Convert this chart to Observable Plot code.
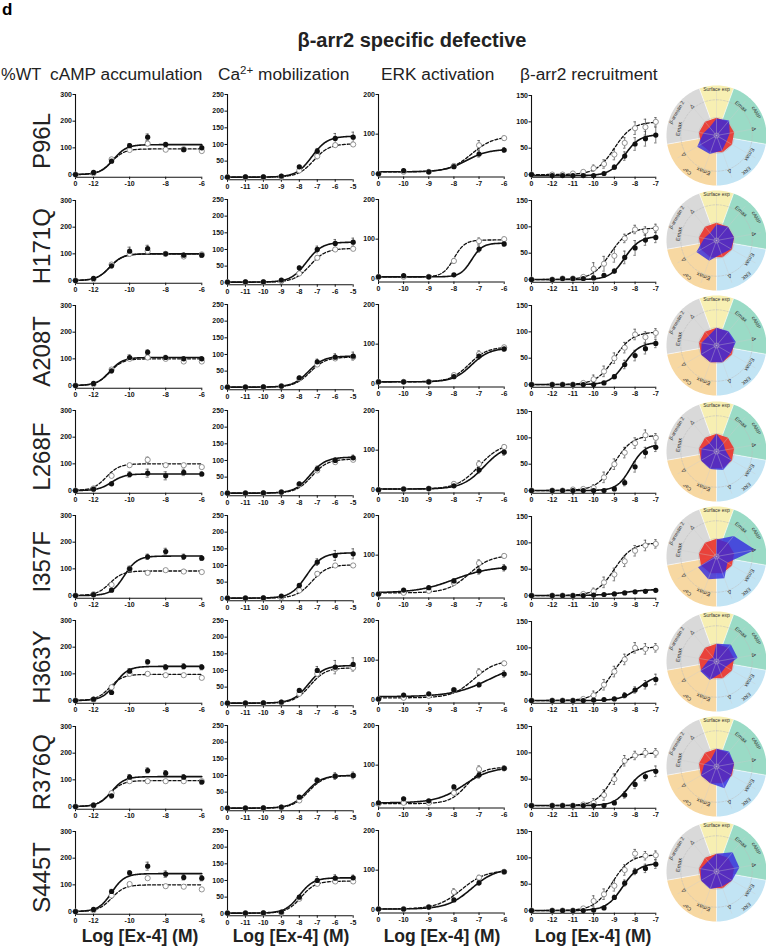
<!DOCTYPE html>
<html><head><meta charset="utf-8">
<script src="https://cdn.jsdelivr.net/npm/d3@7"></script>
<script src="https://cdn.jsdelivr.net/npm/@observablehq/plot@0.6"></script>
<style>
body{margin:0;background:#fff;font-family:"Liberation Sans",Arial,sans-serif;}
#root{position:relative;width:766px;height:947px;overflow:hidden;background:#fff;}
#root svg.pp{position:absolute;overflow:visible;background:transparent;}
</style></head><body><div id="root"></div>
<script>
// ---------------- DATA ----------------
const mutants = ["P96L","H171Q","A208T","L268F","I357F","H363Y","R376Q","S445T"];
const columnTitles = ["cAMP accumulation","Ca²⁺ mobilization","ERK activation","β-arr2 recruitment"];

// doses (log M); the first value is the vehicle ("0") position on the axis
const dosesCAMP = [-13,-12,-11,-10,-9,-8,-7,-6];
const ticksCAMP = [-13,-12,-10,-8,-6];
const dosesCA = [-12,-11,-10,-9,-8,-7,-6,-5];
const ticksCA = [-12,-11,-10,-9,-8,-7,-6,-5];
const dosesERK = [-11,-10,-9,-8,-7,-6];
const ticksERK = [-11,-10,-9,-8,-7,-6];
const dosesARR = [-13,-12,-11.5,-11,-10.5,-10,-9.5,-9,-8.5,-8,-7.5,-7];
const ticksARR = [-13,-12,-11,-10,-9,-8,-7];

// %WT responses, mutant (filled) and WT (open)
const mutCAMP = [
 [0,8,50,108,140,113,93,100],[0,8,55,110,120,100,95,95],[0,8,55,105,125,105,100,100],[0,5,25,60,65,55,68,62],
 [0,3,20,100,145,165,145,140],[0,5,30,110,145,125,128,125],[0,5,40,110,135,125,110,92],[0,8,75,145,170,140,128,125]];
const wtCAMP = [
 [0,5,57,92,116,93,95,88],[0,5,60,100,110,100,90,98],[0,5,60,100,105,100,90,90],[0,8,55,95,115,95,95,88],
 [0,5,40,100,85,95,90,88],[0,3,50,100,100,95,95,85],[0,5,50,95,95,95,95,95],[0,5,60,103,125,95,93,83]];
const errMutCAMP = [
 [0,3,5,8,12,6,5,8],[0,3,8,15,12,8,8,8],[0,3,8,10,8,8,8,8],[0,3,6,10,15,15,12,8],
 [0,3,6,10,10,12,10,8],[0,3,6,10,8,10,10,10],[0,3,8,10,10,10,10,8],[0,3,8,8,15,12,10,10]];
const errWtCAMP = [
 [0,2,5,6,8,5,5,5],[0,2,5,8,8,5,5,5],[0,2,5,6,6,5,5,5],[0,2,5,6,10,6,6,6],
 [0,2,5,6,6,6,6,6],[0,2,5,6,6,6,6,6],[0,2,5,6,6,6,6,6],[0,2,5,6,6,6,6,6]];

const mutCA = [
 [2,3,3,5,33,80,118,122],[2,3,3,8,45,100,118,122],[2,2,3,5,30,78,92,95],[2,2,3,5,30,75,100,108],
 [2,2,3,8,40,110,130,135],[2,2,3,5,40,100,110,118],[2,2,3,5,35,85,98,100],[2,2,3,5,50,100,107,108]];
const wtCA = [
 [2,2,2,3,22,65,98,100],[2,2,2,5,28,75,100,102],[2,2,2,5,28,70,88,92],[2,2,2,5,28,70,95,102],
 [2,2,2,4,25,75,100,100],[2,2,2,4,30,90,105,108],[2,2,2,4,25,85,98,100],[2,2,2,3,45,90,97,97]];
const errMutCA = [
 [0,1,1,2,4,8,15,15],[0,1,1,2,5,10,12,12],[0,1,1,2,4,8,10,12],[0,1,1,2,4,8,8,8],
 [0,1,1,2,5,10,15,15],[0,1,1,2,5,12,20,20],[0,1,1,2,5,8,10,10],[0,1,1,2,5,12,10,8]];
const errWtCA = [
 [0,1,1,2,3,8,5,5],[0,1,1,2,3,6,5,5],[0,1,1,2,3,6,5,5],[0,1,1,2,3,6,5,5],
 [0,1,1,2,3,6,5,5],[0,1,1,2,3,6,5,5],[0,1,1,2,3,6,5,5],[0,1,1,2,3,6,5,5]];

const mutERK = [
 [0,8,5,18,50,60],[5,8,5,10,75,88],[5,5,5,18,70,88],[0,2,3,10,50,95],
 [2,12,18,35,60,68],[2,12,15,25,38,65],[5,15,10,45,75,92],[2,2,7,25,68,96]];
const wtERK = [
 [0,5,5,20,72,90],[5,5,5,45,95,100],[5,5,5,22,75,92],[0,2,3,15,65,108],
 [2,5,10,30,80,98],[2,5,10,25,70,92],[3,5,5,30,90,92],[2,2,7,45,81,96]];
const errMutERK = [
 [0,4,2,3,8,6],[0,3,2,3,8,6],[0,3,2,3,8,6],[0,2,2,3,8,8],
 [0,4,3,5,8,8],[0,4,3,5,6,8],[0,4,3,5,8,6],[0,2,2,4,6,5]];
const errWtERK = [
 [0,2,2,4,12,5],[0,2,2,6,8,5],[0,2,2,4,8,5],[0,2,2,4,8,5],
 [0,2,2,4,8,5],[0,2,2,4,8,5],[0,2,2,4,8,5],[0,2,2,8,6,5]];

const mutARR = [
 [0,-2,-2,-2,-2,-2,2,14,35,58,68,75],[0,0,2,2,2,3,8,16,42,60,75,80],[0,0,0,0,0,0,3,15,38,55,68,78],[0,0,0,0,0,0,0,3,15,45,72,82],
 [0,0,0,0,0,1,2,3,5,7,8,10],[0,0,0,0,0,1,2,3,10,20,30,40],[0,0,0,0,0,0,0,5,20,40,55,65],[0,0,0,0,0,1,5,25,52,74,80,88]];
const wtARR = [
 [0,0,0,2,5,12,20,38,60,88,90,100],[0,0,2,2,5,20,30,45,78,95,92,97],[0,0,0,0,3,10,25,50,70,95,90,98],[0,0,0,2,3,5,25,50,72,90,105,100],
 [0,0,0,0,3,8,25,40,65,85,95,98],[0,0,0,0,3,10,30,55,78,100,98,100],[0,0,0,0,2,5,20,50,85,95,100,100],[0,0,0,0,4,18,31,47,77,108,104,105]];
const errMutARR = [
 [0,0,0,0,0,0,2,4,8,12,14,15],[0,0,0,0,0,0,3,4,12,14,10,10],[0,0,0,0,0,0,2,4,8,10,10,8],[0,0,0,0,0,0,2,3,6,10,10,8],
 [0,0,0,0,0,0,1,1,2,2,2,3],[0,0,0,0,0,0,2,3,5,6,8,10],[0,0,0,0,0,0,2,3,6,8,8,10],[0,0,0,0,0,0,2,4,6,6,8,8]];
const errWtARR = [
 [0,0,0,0,3,6,8,10,10,12,15,8],[0,0,0,0,3,12,14,12,8,8,8,8],[0,0,0,0,3,8,10,10,10,10,10,8],[0,0,0,0,3,6,10,10,10,10,10,8],
 [0,0,0,0,3,6,10,12,10,10,10,8],[0,0,0,0,3,8,10,10,10,10,10,8],[0,0,0,0,3,8,10,10,10,8,8,8],[0,0,0,0,3,10,10,10,10,8,8,8]];

// fitted curve parameters [bottom, top, logEC50, hill]
const fitMutCAMP = [[0,112,-10.9,1.2],[0,100,-11.1,1.2],[0,105,-11.1,1.2],[0,62,-11.0,1.2],[0,148,-10.3,1.2],[0,128,-10.8,1.2],[0,112,-11.0,1.2],[0,142,-11.0,1.2]];
const fitWtCAMP = [[0,96,-11.0,1.2],[0,100,-11.1,1.2],[0,100,-11.1,1.2],[0,100,-11.3,1.2],[0,92,-11.1,1.2],[0,98,-11.1,1.2],[0,97,-11.1,1.2],[0,100,-11.0,1.2]];
const fitMutCA = [[2,125,-7.3,1],[2,122,-7.6,1],[2,95,-7.5,1],[2,110,-7.4,1],[2,138,-7.6,1],[2,115,-7.5,1],[2,100,-7.6,1],[2,108,-8.0,1.1]];
const fitWtCA = [[2,102,-7.2,1],[2,103,-7.4,1],[2,92,-7.4,1],[2,104,-7.3,1],[2,102,-7.3,1],[2,108,-7.4,1],[2,100,-7.5,1],[2,98,-7.9,1.1]];
const fitMutERK = [[5,62,-7.5,1],[5,90,-7.3,2],[5,90,-7.3,1.2],[2,115,-6.8,1],[5,72,-8.0,0.6],[8,95,-6.6,0.6],[5,95,-7.6,0.8],[2,105,-7.3,0.9]];
const fitWtERK = [[5,95,-7.3,1],[5,98,-8.0,2],[5,93,-7.4,1.2],[2,118,-7.0,1],[5,100,-7.4,1],[5,100,-7.2,1],[3,95,-7.5,1.3],[2,100,-7.7,0.9]];
const fitMutARR = [[-2,76,-8.5,1.2],[0,82,-8.5,1.2],[0,80,-8.5,1.2],[0,88,-8.2,1.3],[0,12,-8.5,0.7],[0,50,-7.8,1],[0,70,-8.3,1.2],[0,90,-8.6,1.1]];
const fitWtARR = [[0,100,-9.0,1],[0,98,-9.2,1],[0,100,-9.0,1],[0,105,-9.0,1],[0,100,-9.0,1],[0,102,-9.1,1],[0,100,-9.1,1.1],[0,106,-9.1,1]];

// radar: axes and mutant values (%WT); WT = 100 on all axes
const radarAxisLabels = ["Surface exp","Emax","Δ","Emax","Δ","Emax","Δ","Emax","Δ"];
const radarGroups = ["Surface exp","cAMP","ERK","Ca²⁺","β-arrestin 2"];
const radarGroupColors = ["#f7efb2","#9adbc6","#c2e4f4","#f7d8a2","#d9d9d9"];
const radarWT = [100,100,100,100,100,100,100,100,100];
const radarMut = [
 [95,110,75,65,90,110,125,75,60],
 [90,100,100,95,80,120,130,70,55],
 [100,105,110,90,100,100,100,85,70],
 [100,60,50,95,110,105,100,85,60],
 [95,150,220,70,130,135,120,10,5],
 [100,125,120,60,70,110,105,45,30],
 [100,110,100,95,130,100,100,70,50],
 [100,140,130,100,90,105,100,90,75]];

// ---------------- LAYOUT ----------------
const ROW_DY = 105.2;
const root = document.getElementById("root");
const sig = (x, p) => p[0] + (p[1] - p[0]) / (1 + Math.pow(10, (p[2] - x) * p[3]));

const cfgs = [
 {doses:dosesCAMP, ticks:ticksCAMP, yTicks:[0,100,200,300], yLow:-10, yMax:300, px0:74.7, px1:201, pyTop:94.3, pyAxis:177,
  mut:mutCAMP, wt:wtCAMP, em:errMutCAMP, ew:errWtCAMP, fm:fitMutCAMP, fw:fitWtCAMP, cap:0.18},
 {doses:dosesCA, ticks:ticksCA, yTicks:[0,50,100,150,200,250], yLow:-6, yMax:250, px0:227, px1:352.7, pyTop:94, pyAxis:179.3,
  mut:mutCA, wt:wtCA, em:errMutCA, ew:errWtCA, fm:fitMutCA, fw:fitWtCA, cap:0.14},
 {doses:dosesERK, ticks:ticksERK, yTicks:[0,100,200], yLow:-8, yMax:200, px0:378.3, px1:504, pyTop:94, pyAxis:176.5,
  mut:mutERK, wt:wtERK, em:errMutERK, ew:errWtERK, fm:fitMutERK, fw:fitWtERK, cap:0.1},
 {doses:dosesARR, ticks:ticksARR, yTicks:[0,50,100,150], yLow:-5, yMax:150, px0:530.7, px1:655, pyTop:95, pyAxis:176.7,
  mut:mutARR, wt:wtARR, em:errMutARR, ew:errWtARR, fm:fitMutARR, fw:fitWtARR, cap:0.12}
];

function place(svg, left, top) {
  svg.classList.add("pp");
  svg.style.left = left + "px";
  svg.style.top = top + "px";
  root.appendChild(svg);
}

function panel(c, k) {
  const mL = 26, mR = 8, mT = 6, mB = 18;
  const W = (c.px1 - c.px0) + mL + mR;
  const H = (c.pyAxis - c.pyTop) + mT + mB;
  const veh = c.doses[0], last = c.doses[c.doses.length - 1];
  const ptsM = c.doses.map((d, i) => ({x: d, y: c.mut[k][i], e: c.em[k][i]}));
  const ptsW = c.doses.map((d, i) => ({x: d, y: c.wt[k][i], e: c.ew[k][i]}));
  const xs = d3.range(veh, last + 1e-6, 0.04);
  const curM = xs.map(x => ({x, y: sig(x, c.fm[k])}));
  const curW = xs.map(x => ({x, y: sig(x, c.fw[k])}));
  const errs = ptsW.concat(ptsM).filter(d => d.e > 0);
  const svg = Plot.plot({
    width: W, height: H, marginLeft: mL, marginRight: mR, marginTop: mT, marginBottom: mB,
    style: {fontSize: "7px", fontWeight: "bold", fontFamily: "Liberation Sans, Arial, sans-serif", color: "#111", background: "transparent"},
    x: {domain: [veh, last], ticks: c.ticks, tickFormat: d => d === veh ? "0" : String(d), tickSize: 2.5, tickPadding: 1.5, label: null},
    y: {domain: [c.yLow, c.yMax], ticks: c.yTicks, tickFormat: d => String(d), tickSize: 2.5, tickPadding: 1, label: null},
    marks: [
      Plot.ruleY([c.yLow], {x1: veh, x2: last, stroke: "#111", strokeWidth: 1.1}),
      Plot.ruleX([veh], {y1: c.yLow, y2: c.yMax, stroke: "#111", strokeWidth: 1.1}),
      Plot.ruleX(errs, {x: "x", y1: d => d.y - d.e, y2: d => d.y + d.e, stroke: "#444", strokeWidth: 0.7}),
      Plot.ruleY(errs, {y: d => d.y + d.e, x1: d => d.x - c.cap/2, x2: d => d.x + c.cap/2, stroke: "#444", strokeWidth: 0.7}),
      Plot.ruleY(errs, {y: d => d.y - d.e, x1: d => d.x - c.cap/2, x2: d => d.x + c.cap/2, stroke: "#444", strokeWidth: 0.7}),
      Plot.line(curW, {x: "x", y: "y", stroke: "#111", strokeWidth: 1.3, strokeDasharray: "3,2"}),
      Plot.line(curM, {x: "x", y: "y", stroke: "#111", strokeWidth: 1.6}),
      Plot.dot(ptsW, {x: "x", y: "y", r: 2.6, fill: "white", stroke: "#888", strokeWidth: 0.9}),
      Plot.dot(ptsM, {x: "x", y: "y", r: 2.6, fill: "#111"})
    ]
  });
  place(svg, c.px0 - mL, c.pyTop - mT + k * ROW_DY);
}

function radar(k) {
  const cx = 716, cy = 135 + k * ROW_DY, R = 50, S = 1.12;
  const size = 2 * S * R;
  const maxV = 280;
  const n = radarAxisLabels.length;
  const ang = i => i * 360 / n;
  const pol = (a, r) => ({x: r * Math.sin(a * Math.PI / 180), y: r * Math.cos(a * Math.PI / 180)});
  const spans = [[-0.5,0.5],[0.5,2.5],[2.5,4.5],[4.5,6.5],[6.5,8.5]];
  const marks = [];
  spans.forEach((s, g) => {
    const a0 = s[0] * 360 / n, a1 = s[1] * 360 / n;
    const pts = [{x: 0, y: 0}].concat(d3.range(a0, a1 + 0.01, 2).map(a => pol(a, 1)));
    marks.push(Plot.line(pts, {x: "x", y: "y", fill: radarGroupColors[g], stroke: "none", curve: "linear-closed"}));
  });
  marks.push(Plot.link(spans.map(s => pol(s[0] * 360 / n, 1)), {x1: 0, y1: 0, x2: "x", y2: "y", stroke: "white", strokeWidth: 0.6}));
  [100, 200].forEach(v => {
    marks.push(Plot.line(d3.range(0, 361, 4).map(a => pol(a, v / maxV)), {x: "x", y: "y", stroke: "#bbb", strokeWidth: 0.5, strokeDasharray: v === 200 ? "2,1.5" : null}));
  });
  const wtPts = radarWT.map((v, i) => pol(ang(i), v / maxV));
  const mPts = radarMut[k].map((v, i) => pol(ang(i), v / maxV));
  marks.push(Plot.line(wtPts, {x: "x", y: "y", fill: "#ea3a33", fillOpacity: 0.95, stroke: "none", curve: "linear-closed"}));
  marks.push(Plot.line(mPts, {x: "x", y: "y", fill: "#3228e0", fillOpacity: 0.8, stroke: "none", curve: "linear-closed"}));
  marks.push(Plot.link(radarAxisLabels.map((l, i) => pol(ang(i), 0.9)), {x1: 0, y1: 0, x2: "x", y2: "y", stroke: "#ccc", strokeOpacity: 0.7, strokeWidth: 0.5}));
  marks.push(Plot.dot([{x: 0, y: 0}], {x: "x", y: "y", r: 2.5, stroke: "#bbb", strokeWidth: 0.5, fill: "none"}));
  const inner = radarAxisLabels.map((l, i) => ({...pol(ang(i), 0.76), t: l, a: ang(i)})).filter((d, i) => i > 0);
  marks.push(Plot.text(inner, {x: "x", y: "y", text: "t", rotate: "a", fontSize: 5.5, fill: "#333"}));
  const groupAng = [0, 60, 140, 220, 300];
  const outer = radarGroups.map((t, g) => ({...pol(groupAng[g], 0.92), t, a: groupAng[g]}));
  marks.push(Plot.text(outer, {x: "x", y: "y", text: "t", rotate: "a", fontSize: 5, fill: "#333"}));
  const svg = Plot.plot({
    width: size, height: size, margin: 0,
    style: {fontFamily: "Liberation Sans, Arial, sans-serif", background: "transparent"},
    x: {domain: [-S, S], axis: null},
    y: {domain: [-S, S], axis: null},
    marks
  });
  place(svg, cx - S * R, cy - S * R);
}

for (let k = 0; k < 8; k++) {
  cfgs.forEach(c => panel(c, k));
  radar(k);
}

// ---------------- TEXT OVERLAY ----------------
const ov = d3.select(root).append("svg").attr("width", 766).attr("height", 947)
  .style("position", "absolute").style("left", "0px").style("top", "0px").style("pointer-events", "none")
  .style("font-family", "Liberation Sans, Arial, sans-serif");
ov.append("text").attr("x", 2).attr("y", 15).attr("font-size", 17).attr("font-weight", "bold").text("d");
ov.append("text").attr("x", 412).attr("y", 46.5).attr("text-anchor", "middle").attr("font-size", 20).attr("font-weight", "bold").attr("fill", "#222").text("β-arr2 specific defective");
ov.append("text").attr("x", 1).attr("y", 80).attr("font-size", 16.5).attr("fill", "#222").text("%WT");
const hx = [50, 218, 381, 520];
columnTitles.forEach((t, i) => {
  const tx = ov.append("text").attr("x", hx[i]).attr("y", 80).attr("font-size", 17.3).attr("fill", "#222");
  if (i === 1) {
    tx.append("tspan").text("Ca");
    tx.append("tspan").attr("font-size", 11.5).attr("dy", -6).text("2+");
    tx.append("tspan").attr("dy", 6).text(" mobilization");
  } else tx.text(t);
});
mutants.forEach((m, k) => {
  const cyy = 94 + 47 + k * ROW_DY;
  ov.append("text").attr("transform", `translate(50,${cyy}) rotate(-90)`).attr("text-anchor", "middle")
    .attr("font-size", 24).attr("fill", "#222").text(m);
});
const lx = [140, 291, 442, 593];
lx.forEach(x => ov.append("text").attr("x", x).attr("y", 941.5).attr("text-anchor", "middle")
  .attr("font-size", 17.5).attr("font-weight", "bold").attr("fill", "#222").text("Log [Ex-4] (M)"));
</script></body></html>
